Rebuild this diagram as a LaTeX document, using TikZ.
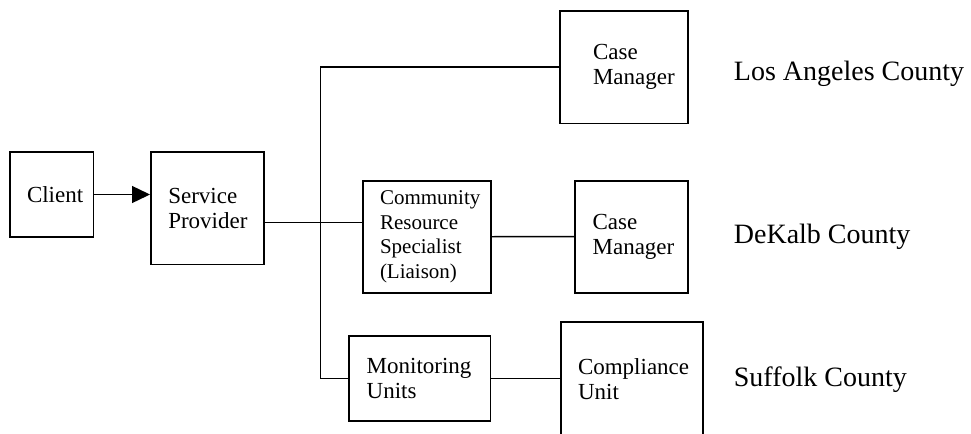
\documentclass[tikz,border=0pt]{standalone}
\usepackage{fontspec}
\setmainfont{Liberation Serif}
\usepackage{tikz}
\usetikzlibrary{arrows.meta,positioning,calc}
\hyphenpenalty=10000
\hfuzz=100pt
\hbadness=10000

\begin{document}
\begin{tikzpicture}[
    x=0.5pt, y=-0.5pt,
    box/.style={draw, line width=0.9pt, align=left, inner xsep=8.7pt, inner ysep=0pt, font=\fontsize{11.5}{12.5}\selectfont},
    county/.style={anchor=base west, inner sep=0pt, font=\fontsize{14}{16}\selectfont},
    line/.style={line width=0.7pt},
    arrow/.style={line, -{Triangle[length=9pt,width=8.5pt]}}
]
    \useasboundingbox (0,0) rectangle (971,434);
    \clip (0,0) rectangle (971,434);

    \node[box, text width=24.5pt, minimum height=42.5pt] (client) at (51.5,194.5) {Client};
    \node[box, text width=39.2pt, minimum height=56.2pt] (provider) at (207.5,208.2) {Service\\Provider};
    \node[box, inner xsep=16.35pt, text width=31.3pt, minimum height=56.4pt] (cmla) at (624.3,67.1) {Case\\Manager};
    \node[box, font=\fontsize{10.5}{12.3}\selectfont, text width=46.7pt, minimum height=56pt] (liaison) at (426.7,236.7) {Community\\Resource\\Specialist\\(Liaison)};
    \node[box, text width=39.1pt, minimum height=56pt] (cmdk) at (631.7,236.6) {Case\\Manager};
    \node[box, text width=53.2pt, minimum height=42.4pt] (monitor) at (419.9,378.4) {Monitoring\\Units};
    \node[box, text width=53.7pt, minimum height=57.4pt] (comply) at (631.7,379.6) {Compliance\\Unit};

    \node[county] (la) at (733.5,80) {Los Angeles County};
    \node[county] (dk) at (733.5,243) {DeKalb County};
    \node[county] (sf) at (733.5,386) {Suffolk County};

    \coordinate (hub) at (320.7,222.5);
    \draw[arrow] (client.east) -- (client.east -| provider.west);
    \draw[line] (hub -| provider.east) -- (hub -| liaison.west);
    \draw[line] (monitor.west) -| (hub) |- (cmla.west);
    \draw[line] (liaison.east) -- (cmdk.west);
    \draw[line] (monitor.east) -- (monitor.east -| comply.west);
\end{tikzpicture}
\end{document}
